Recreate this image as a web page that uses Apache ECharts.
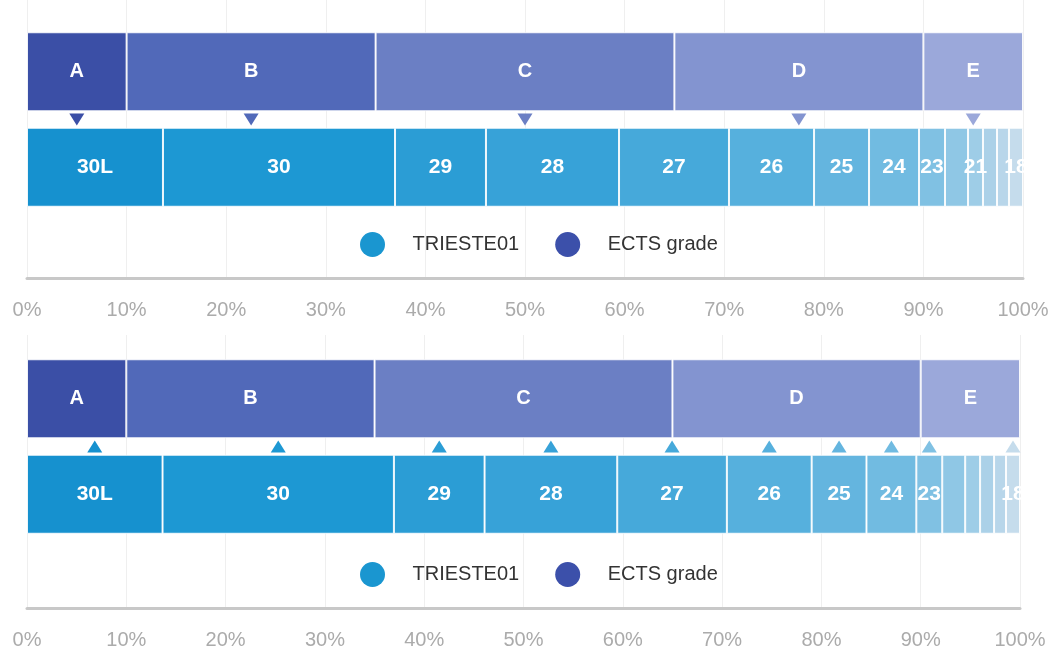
<!DOCTYPE html>
<html>
<head>
<meta charset="utf-8">
<script src="https://cdn.jsdelivr.net/npm/echarts@6/dist/echarts.min.js"></script>
<style>
html, body { margin: 0; padding: 0; background: #fff; }
#chart { width: 1055px; height: 650px; }
</style>
</head>
<body>
<div id="chart"></div>
<script>
// ECTS grade bands (share of students, %)
const ectsGrades = ['A', 'B', 'C', 'D', 'E'];
const ectsShares = [10, 25, 30, 25, 10];

// local grades of TRIESTE01 (share of students, %)
const localGrades = ['30L', '30', '29', '28', '27', '26', '25', '24', '23', '22', '21', '20', '19', '18'];
const localShares = [13.65, 23.3, 9.13, 13.36, 11.04, 8.54, 5.52, 5.02, 2.61, 2.31, 1.5, 1.41, 1.2, 1.41];

const xTicks = [0, 10, 20, 30, 40, 50, 60, 70, 80, 90, 100];

// which local grades carry a visible label / marker in each panel
const topLabelled = ['30L', '30', '29', '28', '27', '26', '25', '24', '23', '21', '18'];
const bottomLabelled = ['30L', '30', '29', '28', '27', '26', '25', '24', '23', '18'];
const bottomMarked = ['30L', '30', '29', '28', '27', '26', '25', '24', '23', '18'];

const ectsColors = ['#3b4fa6', '#5169b9', '#6b7fc4', '#8394d0', '#9ba8da'];
const localColors = ['#1691cf', '#1d98d3', '#2b9dd5', '#37a2d8', '#46a9da', '#56b0dd', '#64b5df',
    '#71bbe1', '#80c1e3', '#8fc7e5', '#9ecde7', '#abd1e8', '#b8d6ea', '#c5dcec'];

function midpoints(shares) {
    let acc = 0;
    return shares.map(v => {
        const m = acc + v / 2;
        acc += v;
        return m;
    });
}

const ectsMid = midpoints(ectsShares);
const localMid = midpoints(localShares);

const panels = [
    { axisTop: 0, barTop: 24, barHeight: 191, right: 32, legendTop: 227, down: true, labelled: topLabelled },
    { axisTop: 335, barTop: 351, barHeight: 191, right: 35, legendTop: 557, down: false, labelled: bottomLabelled }
];

let grid = [], xAxis = [], yAxis = [], series = [], legend = [];

panels.forEach((p, k) => {
    const gA = 3 * k, gB = 3 * k + 1, gM = 3 * k + 2;
    const stack = 'total' + k;
    grid.push({ left: 27, right: p.right, top: p.axisTop, height: 278 });
    grid.push({ left: 27, right: p.right, top: p.barTop, height: p.barHeight });
    grid.push({ left: 27, right: p.right, top: p.barTop, height: p.barHeight });

    xAxis.push({
        gridIndex: gA, type: 'value', min: 0, max: 100, interval: 10,
        axisLine: { show: true, lineStyle: { color: '#c8c8c8', width: 3 } },
        axisTick: { show: false },
        axisLabel: {
            color: '#ababab', fontSize: 20, margin: 22, fontFamily: 'Liberation Sans',
            formatter: v => xTicks.indexOf(v) >= 0 ? v + '%' : ''
        },
        splitLine: { show: true, lineStyle: { color: '#efefef', width: 1 } }
    });
    xAxis.push({ gridIndex: gB, type: 'value', min: 0, max: 100, show: false });
    xAxis.push({ gridIndex: gM, type: 'value', min: 0, max: 100, show: false });

    yAxis.push({ gridIndex: gA, type: 'value', show: false, splitLine: { show: false } });
    yAxis.push({ gridIndex: gB, type: 'category', inverse: true, show: false, data: ['ECTS grade', 'TRIESTE01'] });
    yAxis.push({ gridIndex: gM, type: 'value', inverse: true, min: 0, max: 2, show: false, splitLine: { show: false } });

    ectsGrades.forEach((g, i) => {
        series.push({
            type: 'bar', name: 'ects-' + g, stack: stack, barWidth: 79,
            xAxisIndex: gB, yAxisIndex: gB,
            itemStyle: { color: ectsColors[i], borderColor: 'rgba(255,255,255,0.85)', borderWidth: 1 },
            label: {
                show: true, position: 'inside', formatter: g, color: '#fff',
                fontWeight: 'bold', fontSize: 20, fontFamily: 'Liberation Sans'
            },
            data: [ectsShares[i], '-']
        });
    });

    localGrades.forEach((g, i) => {
        series.push({
            type: 'bar', name: 'local-' + g, stack: stack, barWidth: 79,
            xAxisIndex: gB, yAxisIndex: gB,
            itemStyle: { color: localColors[i], borderColor: 'rgba(255,255,255,0.85)', borderWidth: 1 },
            label: {
                show: p.labelled.indexOf(g) >= 0, position: 'inside', formatter: g, color: '#fff',
                fontWeight: 'bold', fontSize: 21, fontFamily: 'Liberation Sans'
            },
            data: ['-', localShares[i]]
        });
    });

    // triangle markers between the two bars
    let marks;
    if (p.down) {
        marks = ectsGrades.map((g, i) => ({ value: [ectsMid[i], 1], itemStyle: { color: ectsColors[i] } }));
    } else {
        marks = localGrades.map((g, i) => ({ g: g, value: [localMid[i], 1], itemStyle: { color: localColors[i] } }))
            .filter(d => bottomMarked.indexOf(d.g) >= 0)
            .map(d => ({ value: d.value, itemStyle: d.itemStyle }));
    }
    series.push({
        type: 'scatter', name: 'marks' + k, xAxisIndex: gM, yAxisIndex: gM,
        symbol: 'triangle', symbolSize: [15, 12], symbolRotate: p.down ? 180 : 0,
        itemStyle: { opacity: 1 },
        data: marks, z: 5
    });

    // legend entries
    series.push({ type: 'scatter', name: 'TRIESTE01', xAxisIndex: gM, yAxisIndex: gM, data: [], itemStyle: { color: '#1a96d0', opacity: 1 } });
    series.push({ type: 'scatter', name: 'ECTS grade', xAxisIndex: gM, yAxisIndex: gM, data: [], itemStyle: { color: '#3c50aa', opacity: 1 } });

    legend.push({
        top: p.legendTop, left: 355, icon: 'circle', itemWidth: 70, itemHeight: 25, itemGap: 36,
        data: [
            { name: 'TRIESTE01', itemStyle: { color: '#1a96d0', opacity: 1 } },
            { name: 'ECTS grade', itemStyle: { color: '#3c50aa', opacity: 1 } }
        ],
        textStyle: { fontSize: 20, color: '#333', fontFamily: 'Liberation Sans' }
    });
});

const myChart = echarts.init(document.getElementById('chart'));
myChart.setOption({
    animation: false,
    backgroundColor: '#fff',
    legend: legend,
    grid: grid,
    xAxis: xAxis,
    yAxis: yAxis,
    series: series
});
</script>
</body>
</html>
